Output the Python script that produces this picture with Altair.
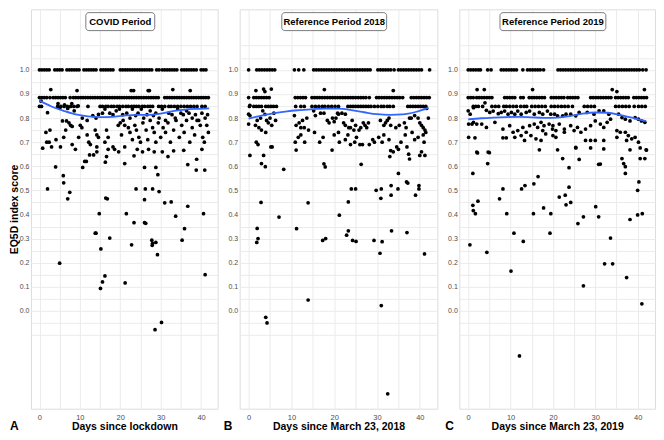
import altair as alt
import pandas as pd

FONT = "Liberation Sans"

PANEL_TITLES = ["COVID Period", "Reference Period 2018", "Reference Period 2019"]
X_TITLES = ["Days since lockdown", "Days since March 23, 2018", "Days since March 23, 2019"]
LETTERS = ["A", "B", "C"]
Y_TITLE = "EQ5D index score"

ROW_VALUES = [1.0, 0.885, 0.848]

# ---------------- Panel A : COVID period ----------------
A_ROW_100 = [0.0, 0.6, 1.2, 1.8, 2.4, 3.8, 4.4, 5.0, 5.6, 6.8, 7.4, 8.0, 8.6, 9.2, 9.8,
             11.0, 11.6, 12.2, 12.8, 13.4, 14.0, 15.2, 15.8, 16.4, 17.0, 17.6, 18.2,
             20.0, 20.6, 21.2, 21.8, 22.4, 23.0, 23.6, 24.2, 24.8, 25.4, 26.0, 26.6, 27.2,
             27.8, 29.0, 29.6, 30.4, 31.0, 31.6, 32.2, 32.8, 33.4, 34.0, 35.2, 35.8, 36.4,
             37.0, 37.6, 38.2, 38.8, 40.0, 40.6, 41.2]
A_ROW_089 = [0.0, 0.6, 1.2, 1.8, 2.6, 3.4, 4.0, 4.6, 5.2, 5.8, 6.4, 7.6, 8.4, 9.0, 9.6,
             10.2, 10.8, 11.4, 12.0, 12.6, 13.2, 13.8, 14.4, 15.0, 15.6, 16.2, 16.8, 17.4,
             18.0, 18.6, 19.2, 19.8, 20.4, 21.0, 21.6, 22.2, 22.8, 23.4, 24.0, 24.6, 25.2,
             25.8, 26.4, 27.0, 27.6, 28.2, 28.8, 29.4, 31.0, 31.6, 32.2, 32.8, 33.4, 34.0,
             34.6, 35.2, 35.8, 36.4, 37.0, 37.6, 38.2, 38.8, 39.4, 40.0, 40.6, 41.2, 41.8]
A_ROW_085 = [0.0, 0.5, 4.5, 5.3, 6.1, 6.9, 7.7, 8.5, 9.3, 12.0, 15.0, 15.6, 16.4, 17.0,
             17.8, 18.4, 19.2, 19.8, 20.6, 21.4, 22.0, 22.8, 23.4, 24.0, 24.6, 25.4, 26.0,
             26.8, 27.4, 28.0, 29.5, 30.2, 31.0, 32.0, 32.6, 33.4, 34.2, 35.0, 35.8, 36.6,
             37.4, 38.2, 39.0, 40.2, 41.0]
A_POINTS = [
    (2.8, 0.918), (9.3, 0.914), (22.7, 0.914), (23.3, 0.914), (26.9, 0.914), (27.2, 0.914),
    (33.0, 0.918), (37.3, 0.914),
    (0.4, 0.87), (2.0, 0.822), (4.6, 0.86), (5.0, 0.84), (6.2, 0.855), (7.0, 0.84),
    (8.0, 0.86), (8.6, 0.83), (9.6, 0.85), (10.6, 0.80), (11.8, 0.79), (13.2, 0.81),
    (14.0, 0.80), (14.6, 0.815), (15.6, 0.82), (16.2, 0.837), (17.4, 0.82), (18.2, 0.814),
    (19.0, 0.83), (19.8, 0.837), (20.6, 0.814), (21.6, 0.82), (22.4, 0.80), (23.0, 0.837),
    (23.8, 0.81), (24.4, 0.82), (25.2, 0.837), (25.8, 0.80), (26.6, 0.814), (27.4, 0.83),
    (28.2, 0.81), (28.8, 0.82), (29.6, 0.80), (30.4, 0.837), (31.2, 0.79), (32.0, 0.82),
    (32.8, 0.814), (33.6, 0.80), (34.2, 0.837), (35.0, 0.82), (35.6, 0.814), (36.4, 0.83),
    (37.0, 0.82), (37.8, 0.80), (38.6, 0.814), (39.4, 0.79), (40.2, 0.82), (41.0, 0.80),
    (41.6, 0.814),
    (1.6, 0.74), (2.6, 0.75), (1.8, 0.70), (2.4, 0.70), (0.8, 0.675), (4.1, 0.71),
    (5.7, 0.788), (6.0, 0.72), (6.5, 0.75), (6.7, 0.788), (7.3, 0.78), (7.7, 0.77),
    (8.1, 0.69), (8.1, 0.765), (8.9, 0.67), (9.7, 0.72), (10.1, 0.77), (10.5, 0.76),
    (11.8, 0.73), (12.2, 0.70), (12.6, 0.69), (13.8, 0.75), (14.2, 0.73), (14.6, 0.72),
    (14.2, 0.68), (16.2, 0.70), (16.6, 0.75), (17.0, 0.72), (17.0, 0.67), (18.2, 0.68),
    (18.6, 0.67), (19.5, 0.77), (20.0, 0.78), (20.3, 0.73), (20.7, 0.79), (21.1, 0.77),
    (21.1, 0.68), (22.0, 0.76), (22.4, 0.74), (23.0, 0.71), (23.6, 0.77), (24.0, 0.75),
    (24.6, 0.72), (25.0, 0.70), (25.6, 0.78), (26.4, 0.75), (26.8, 0.71), (27.4, 0.79),
    (28.0, 0.76), (28.4, 0.74), (28.8, 0.70), (29.4, 0.78), (30.0, 0.72), (30.6, 0.76),
    (31.2, 0.74), (31.8, 0.78), (32.4, 0.70), (33.2, 0.75), (33.8, 0.79), (34.6, 0.72),
    (35.2, 0.77), (35.8, 0.74), (36.4, 0.79), (37.2, 0.70), (37.8, 0.76), (38.4, 0.73),
    (39.0, 0.79), (39.8, 0.77), (40.4, 0.72), (40.8, 0.70), (41.4, 0.77), (41.8, 0.74),
    (5.2, 0.68), (3.0, 0.68), (11.2, 0.62), (11.6, 0.62), (12.4, 0.647), (13.4, 0.647),
    (14.2, 0.66), (16.3, 0.617), (16.6, 0.64), (19.6, 0.66), (21.1, 0.611), (23.4, 0.643),
    (24.2, 0.67), (25.5, 0.66), (27.0, 0.67), (28.4, 0.66), (30.4, 0.66), (33.2, 0.664),
    (35.7, 0.666), (36.7, 0.607), (38.9, 0.629), (40.2, 0.67), (31.8, 0.64),
    (2.0, 0.506), (4.0, 0.597), (5.9, 0.561), (6.0, 0.531), (7.0, 0.465), (7.5, 0.492),
    (10.7, 0.595), (14.8, 0.403), (16.4, 0.468), (16.8, 0.465), (21.5, 0.403), (23.9, 0.506),
    (26.0, 0.461), (26.0, 0.595), (26.2, 0.506), (28.0, 0.506), (28.8, 0.595), (29.3, 0.565),
    (29.6, 0.495), (31.0, 0.448), (32.6, 0.452), (33.7, 0.393), (36.7, 0.434), (38.8, 0.584),
    (40.6, 0.403), (40.9, 0.584),
    (13.8, 0.322), (14.0, 0.322), (23.4, 0.366), (26.0, 0.366), (26.3, 0.363), (35.9, 0.341),
    (17.4, 0.302), (15.2, 0.257), (22.8, 0.274), (27.8, 0.293), (27.9, 0.272), (28.0, 0.28),
    (28.8, 0.284), (29.2, 0.233), (35.3, 0.293), (5.0, 0.198), (16.2, 0.145), (15.6, 0.12),
    (15.1, 0.093), (21.2, 0.116), (41.0, 0.15), (28.6, -0.078), (30.2, -0.048),
]

# ---------------- Panel B : reference 2018 ----------------
B_ROW_100 = [0.0, 1.9, 2.5, 3.1, 3.7, 4.3, 4.9, 5.5, 6.1, 10.7, 11.7, 12.9, 15.2, 15.8,
             16.4, 17.0, 17.6, 18.2, 18.8, 19.4, 20.0, 20.6, 21.2, 21.8, 22.4, 23.0, 23.6,
             24.2, 24.8, 25.4, 26.0, 26.6, 27.2, 27.8, 28.4, 30.2, 30.8, 31.4, 32.0, 32.6,
             33.2, 34.0, 35.0, 35.6, 36.2, 36.8, 37.4, 38.0, 38.6, 39.2, 39.8, 40.4, 42.3]
B_ROW_089 = [0.0, 1.2, 1.8, 2.4, 3.0, 3.6, 4.2, 4.8, 10.9, 11.5, 12.1, 12.7, 13.3, 14.8,
             15.4, 16.0, 16.6, 17.2, 17.8, 18.4, 19.0, 19.6, 20.2, 20.8, 21.4, 22.0, 22.6,
             23.2, 23.8, 24.4, 25.0, 25.6, 26.2, 26.8, 27.4, 28.2, 29.9, 30.5, 31.1, 31.7,
             32.3, 32.9, 33.5, 34.1, 34.7, 35.3, 36.0, 38.0, 38.6, 39.2, 39.8, 40.4, 41.0,
             41.6, 42.2]
B_ROW_085 = [0.2, 1.2, 1.8, 2.4, 3.0, 4.0, 4.6, 5.2, 5.8, 6.5, 11.0, 12.2, 13.0, 14.8,
             15.6, 16.4, 17.2, 17.8, 18.6, 19.4, 20.2, 21.0, 23.2, 23.8, 24.4, 25.0, 25.6,
             26.2, 26.8, 27.4, 28.0, 28.6, 29.4, 30.2, 31.0, 31.6, 32.4, 33.0, 33.8, 37.2,
             37.8, 38.4, 39.0, 39.6, 40.2, 40.8, 41.4]
B_POINTS = [
    (1.7, 0.914), (3.5, 0.92), (5.3, 0.92), (3.8, 0.91), (17.7, 0.918), (33.8, 0.914),
    (0.0, 0.816), (0.3, 0.81), (0.0, 0.775), (0.3, 0.853), (1.6, 0.77), (2.0, 0.79),
    (2.4, 0.76), (2.8, 0.80), (3.3, 0.83), (3.8, 0.815), (4.2, 0.79), (4.6, 0.78),
    (5.0, 0.80), (5.4, 0.77), (5.9, 0.82), (6.3, 0.79), (10.7, 0.81), (11.1, 0.77),
    (11.8, 0.78), (12.2, 0.76), (12.6, 0.79), (13.0, 0.76), (13.6, 0.80), (15.2, 0.83),
    (15.6, 0.81), (16.8, 0.82), (17.6, 0.82), (18.4, 0.79), (18.8, 0.78), (19.6, 0.80),
    (20.0, 0.785), (20.4, 0.80), (20.8, 0.82), (21.0, 0.816), (21.8, 0.82), (22.6, 0.816),
    (22.2, 0.78), (22.6, 0.77), (23.4, 0.76), (23.8, 0.76), (24.2, 0.79), (24.6, 0.75),
    (25.0, 0.77), (25.8, 0.75), (26.2, 0.76), (26.8, 0.78), (27.2, 0.77), (27.6, 0.76),
    (28.0, 0.78), (30.8, 0.79), (31.6, 0.77), (32.0, 0.78), (32.4, 0.79), (32.8, 0.80),
    (33.2, 0.77), (34.4, 0.76), (35.2, 0.77), (36.4, 0.78), (36.8, 0.76), (37.6, 0.80),
    (38.0, 0.80), (38.8, 0.81), (39.6, 0.80), (40.0, 0.78), (40.4, 0.77), (40.8, 0.76),
    (41.2, 0.75), (42.0, 0.80), (41.6, 0.84),
    (1.8, 0.70), (2.2, 0.69), (3.0, 0.75), (5.2, 0.68), (5.5, 0.68), (4.0, 0.74),
    (10.9, 0.70), (11.1, 0.667), (11.6, 0.72), (12.2, 0.73), (13.1, 0.70), (14.0, 0.75),
    (15.4, 0.74), (16.6, 0.70), (17.4, 0.72), (19.5, 0.667), (20.0, 0.73), (21.2, 0.70),
    (21.0, 0.74), (22.6, 0.71), (23.2, 0.73), (23.8, 0.69), (24.8, 0.70), (25.2, 0.72),
    (26.0, 0.69), (26.6, 0.69), (28.2, 0.69), (29.0, 0.71), (29.4, 0.70), (30.4, 0.72),
    (31.2, 0.70), (31.6, 0.73), (32.8, 0.71), (33.8, 0.66), (34.6, 0.68), (35.0, 0.67),
    (35.6, 0.70), (36.6, 0.73), (37.0, 0.68), (38.2, 0.74), (38.8, 0.71), (39.6, 0.72),
    (40.4, 0.66), (41.0, 0.70), (40.8, 0.73), (41.4, 0.74),
    (0.3, 0.645), (3.0, 0.611), (3.5, 0.645), (3.9, 0.598), (8.2, 0.587), (17.9, 0.597),
    (17.6, 0.61), (26.3, 0.608), (33.0, 0.64), (33.2, 0.665), (34.9, 0.506), (35.0, 0.57),
    (37.4, 0.65), (37.6, 0.63), (40.0, 0.645), (41.2, 0.645), (29.8, 0.50), (31.0, 0.506),
    (33.3, 0.52), (33.3, 0.48), (36.9, 0.535), (37.2, 0.53), (39.8, 0.52), (39.8, 0.506),
    (39.0, 0.48), (24.0, 0.506), (25.0, 0.506), (30.9, 0.467), (2.9, 0.45), (13.9, 0.448),
    (23.3, 0.452),
    (1.9, 0.284), (2.0, 0.342), (2.2, 0.30), (4.0, -0.027), (4.3, -0.05), (7.1, 0.389),
    (11.2, 0.341), (13.9, 0.045), (17.3, 0.292), (18.0, 0.30), (21.2, 0.397), (22.9, 0.314),
    (23.3, 0.332), (24.3, 0.292), (25.1, 0.288), (29.3, 0.292), (30.7, 0.239), (31.0, 0.022),
    (31.2, 0.287), (32.5, -0.344), (33.4, 0.332), (37.0, 0.325), (41.1, 0.236),
]

# ---------------- Panel C : reference 2019 ----------------
C_ROW_100 = [0.0, 0.6, 1.2, 1.8, 2.4, 2.9, 4.6, 5.4, 7.8, 8.4, 9.0, 9.6, 10.2, 10.8, 11.4,
             12.9, 14.0, 14.6, 15.2, 15.8, 16.4, 17.0, 17.8, 21.2, 21.8, 22.4, 23.0, 23.6,
             24.2, 24.8, 25.4, 26.0, 26.6, 27.2, 27.8, 28.4, 29.0, 29.6, 30.2, 30.8, 31.4,
             32.0, 32.6, 33.2, 33.8, 34.4, 35.0, 35.6, 36.2, 36.8, 37.4, 38.0, 38.6, 39.2,
             39.8, 40.4, 41.2, 42.0]
C_ROW_089 = [0.0, 0.6, 1.2, 2.0, 2.6, 3.2, 3.8, 4.4, 5.0, 5.6, 8.6, 9.2, 9.8, 10.4, 11.0,
             12.4, 13.0, 14.4, 15.0, 15.6, 16.2, 16.8, 17.4, 18.0, 19.6, 20.2, 20.8, 21.4,
             22.0, 22.6, 23.5, 24.1, 24.7, 25.3, 25.9, 28.9, 29.5, 30.1, 30.7, 31.3, 31.9,
             32.5, 33.1, 33.7, 34.8, 35.4, 36.0, 36.6, 37.2, 37.8, 39.1, 39.7, 40.3, 40.9,
             41.5, 42.1]
C_ROW_085 = [1.2, 1.8, 2.4, 3.4, 5.6, 6.4, 7.2, 8.4, 9.0, 9.8, 10.6, 11.4, 12.4, 13.2,
             13.8, 15.0, 15.8, 16.6, 17.4, 18.2, 19.6, 20.4, 21.2, 22.0, 22.8, 23.6, 24.6,
             27.4, 28.2, 29.0, 29.8, 34.8, 35.6, 36.4, 37.2, 38.0, 39.2, 40.2, 41.0, 41.8]
C_POINTS = [
    (2.1, 0.918), (3.8, 0.918), (15.2, 0.918), (34.0, 0.918), (35.1, 0.91), (41.6, 0.918),
    (0.0, 0.83), (0.46, 0.816), (1.24, 0.843), (3.96, 0.863), (4.3, 0.832), (5.1, 0.823),
    (5.9, 0.829), (7.1, 0.818), (7.8, 0.823), (8.6, 0.829), (9.4, 0.816), (10.2, 0.823),
    (11.0, 0.816), (11.7, 0.829), (12.5, 0.816), (13.7, 0.823), (14.5, 0.829), (15.6, 0.816),
    (16.8, 0.823), (17.6, 0.816), (18.7, 0.829), (19.5, 0.816),
    (0.1, 0.775), (0.9, 0.775), (1.24, 0.782), (2.02, 0.775), (3.2, 0.775), (4.3, 0.761),
    (6.3, 0.782), (8.2, 0.754), (9.8, 0.768), (10.6, 0.741), (11.7, 0.748), (12.9, 0.761),
    (13.7, 0.741), (14.5, 0.768), (15.6, 0.775), (16.4, 0.761), (17.2, 0.782), (17.9, 0.768),
    (19.1, 0.775), (19.9, 0.754),
    (0.1, 0.72), (1.6, 0.718), (8.2, 0.718), (9.0, 0.718), (11.0, 0.72), (12.5, 0.727),
    (13.3, 0.707), (14.8, 0.727), (16.0, 0.714), (17.2, 0.707), (17.6, 0.748), (18.3, 0.734),
    (20.7, 0.72), (2.02, 0.659), (4.7, 0.659), (16.8, 0.668),
    (20.4, 0.816), (21.1, 0.809), (22.3, 0.809), (23.1, 0.816), (24.2, 0.816), (25.4, 0.809),
    (26.2, 0.823), (28.1, 0.823), (29.7, 0.816), (30.9, 0.83), (32.0, 0.83), (33.2, 0.816),
    (35.5, 0.816), (36.3, 0.802), (37.1, 0.795), (38.2, 0.788), (39.4, 0.802), (40.2, 0.795),
    (40.9, 0.788), (41.7, 0.782),
    (20.0, 0.768), (20.7, 0.748), (21.5, 0.775), (22.7, 0.754), (24.2, 0.768), (25.8, 0.761),
    (26.6, 0.741), (27.7, 0.754), (28.9, 0.768), (30.0, 0.788), (31.2, 0.775), (32.0, 0.761),
    (32.8, 0.782), (33.6, 0.795), (35.1, 0.748), (35.9, 0.741), (37.1, 0.741), (37.8, 0.727),
    (38.6, 0.714), (39.4, 0.72), (40.2, 0.70),
    (20.0, 0.727), (22.7, 0.741), (25.0, 0.748), (27.7, 0.707), (28.9, 0.707), (30.0, 0.707),
    (32.0, 0.707), (35.1, 0.72), (37.4, 0.707),
    (21.1, 0.668), (25.4, 0.676), (28.9, 0.676), (32.0, 0.672), (38.2, 0.668), (40.6, 0.676),
    (42.0, 0.668), (22.3, 0.632), (26.2, 0.628), (31.2, 0.609), (36.3, 0.632), (36.7, 0.611),
    (37.1, 0.598), (40.6, 0.632), (41.7, 0.632), (23.8, 0.594), (37.1, 0.57),
    (1.1, 0.57), (1.1, 0.438), (2.3, 0.455), (2.2, 0.655), (4.6, 0.611), (5.0, 0.656),
    (7.4, 0.465), (8.2, 0.506), (12.6, 0.506), (13.4, 0.52), (15.5, 0.527), (16.5, 0.557),
    (17.8, 0.427), (21.5, 0.472), (22.9, 0.48), (23.1, 0.44), (23.8, 0.513), (24.2, 0.45),
    (25.4, 0.678), (30.1, 0.432), (30.8, 0.608), (40.0, 0.50), (40.3, 0.535), (42.1, 0.667),
    (0.4, 0.274), (4.4, 0.243), (9.1, 0.403), (10.8, 0.322), (10.1, 0.165), (13.0, 0.288),
    (12.1, -0.187), (15.4, 0.403), (19.5, 0.403), (19.3, 0.322), (25.9, 0.362), (27.2, 0.39),
    (27.2, 0.104), (30.8, 0.39), (32.2, 0.195), (34.1, 0.195), (33.6, 0.302), (37.4, 0.138),
    (38.2, 0.379), (40.0, 0.398), (41.1, 0.403), (41.0, 0.029), (1.2, 0.416), (1.7, 0.403),
]

# ---------------- smoothed trend (loess) ----------------
SMOOTH_DAYS = [0, 3, 6, 9, 12, 15, 18, 21, 24, 27, 30, 33, 36, 39, 42]
A_SMOOTH = [0.872, 0.848, 0.830, 0.815, 0.807, 0.804, 0.805, 0.810, 0.813, 0.813, 0.818, 0.829, 0.835, 0.838, 0.840]
B_SMOOTH = [0.798, 0.810, 0.820, 0.828, 0.833, 0.837, 0.839, 0.839, 0.833, 0.824, 0.816, 0.813, 0.815, 0.825, 0.842]
C_SMOOTH = [0.794, 0.799, 0.802, 0.804, 0.805, 0.803, 0.801, 0.802, 0.808, 0.818, 0.823, 0.822, 0.812, 0.800, 0.787]

X_DOMAIN = [-2.1, 44.1]
Y_DOMAIN = [-0.406, 1.251]
Y_GRID = [-0.1, -0.05, 0.0, 0.05, 0.1, 0.15, 0.2, 0.25, 0.3, 0.35, 0.4, 0.45, 0.5, 0.55,
          0.6, 0.65, 0.7, 0.75, 0.8, 0.85, 0.9, 0.95, 1.0, 1.05, 1.1]
X_GRID = [0, 5, 10, 15, 20, 25, 30, 35, 40]
LABEL_POS = (20, 1.2)

GRID = "#ebebeb"
LABEL_COL = "#4d4d4d"
PLOT_H = 400


def points_frame(rows, pts):
    days, vals = [], []
    for v, r in zip(ROW_VALUES, rows):
        days += r
        vals += [v] * len(r)
    for d, v in pts:
        days.append(d)
        vals.append(v)
    return pd.DataFrame({"day": days, "val": vals})


def panel(i, rows, pts, smooth, width, box_w, letter_dx):
    x_axis = alt.Axis(values=X_GRID, labelExpr="datum.value % 10 == 0 ? datum.label : ''",
                      title=X_TITLES[i], ticks=False, domain=False, gridColor=GRID,
                      gridWidth=1, labelFont=FONT, labelFontSize=7.5, labelColor=LABEL_COL,
                      labelPadding=5, titleFont=FONT, titleFontSize=10.5,
                      titleFontWeight="bold", titleColor="black", titlePadding=0)
    y_kw = dict(values=Y_GRID, format=".1f",
                labelExpr="(datum.value > -0.01 && datum.value < 1.01 && abs(round(datum.value*10) - datum.value*10) < 0.001) ? format(datum.value, '.1f') : ''",
                ticks=False, domain=False, gridColor=GRID, gridWidth=1, labelFont=FONT,
                labelFontSize=7, labelColor=LABEL_COL, labelPadding=2)
    if i == 0:
        y_kw.update(title=Y_TITLE, titleFont=FONT, titleFontSize=10.5, titleFontWeight="bold",
                    titleColor="black", titlePadding=0)
    else:
        y_kw.update(title="")
    y_axis = alt.Axis(**y_kw)
    x = alt.X("day:Q", scale=alt.Scale(domain=X_DOMAIN, nice=False, zero=False), axis=x_axis)
    y = alt.Y("val:Q", scale=alt.Scale(domain=Y_DOMAIN, nice=False, zero=False), axis=y_axis)

    df = points_frame(rows, pts)
    sm = pd.DataFrame({"day": SMOOTH_DAYS, "val": smooth})
    lab = pd.DataFrame({"day": [LABEL_POS[0]], "val": [LABEL_POS[1]], "label": [PANEL_TITLES[i]]})
    let = pd.DataFrame({"letter": [LETTERS[i]]})

    pts_layer = alt.Chart(df).mark_circle(size=14, color="black", opacity=1).encode(x=x, y=y)
    line = alt.Chart(sm).mark_line(color="#3366FF", strokeWidth=1.8, interpolate="monotone").encode(x=x, y=y)
    box = alt.Chart(lab).mark_rect(width=box_w, height=18, fill="white", stroke="#444444",
                                   strokeWidth=0.7, cornerRadius=3).encode(x=x, y=y)
    txt = alt.Chart(lab).mark_text(font=FONT, fontSize=9.5, fontWeight="bold", color="black").encode(
        x=x, y=y, text="label:N")
    letter = alt.Chart(let).mark_text(font=FONT, fontSize=12, fontWeight="bold", color="black",
                                      align="left", baseline="alphabetic").encode(
        x=alt.value(letter_dx), y=alt.value(PLOT_H + 21), text="letter:N")
    return alt.layer(pts_layer, line, box, txt, letter).properties(width=width, height=PLOT_H)


pa = panel(0, [A_ROW_100, A_ROW_089, A_ROW_085], A_POINTS, A_SMOOTH, 187, 69, -21)
pb = panel(1, [B_ROW_100, B_ROW_089, B_ROW_085], B_POINTS, B_SMOOTH, 198, 105, -16)
pc = panel(2, [C_ROW_100, C_ROW_089, C_ROW_085], C_POINTS, C_SMOOTH, 196, 106, -14)

chart = alt.hconcat(pa, pb, pc, spacing=22, bounds="flush").properties(
    padding={"left": 0, "top": 0, "right": 0, "bottom": 0}
).configure_view(stroke=None).configure(background="white")

chart.save("out.html", embed_options={"renderer": "svg", "actions": False})
